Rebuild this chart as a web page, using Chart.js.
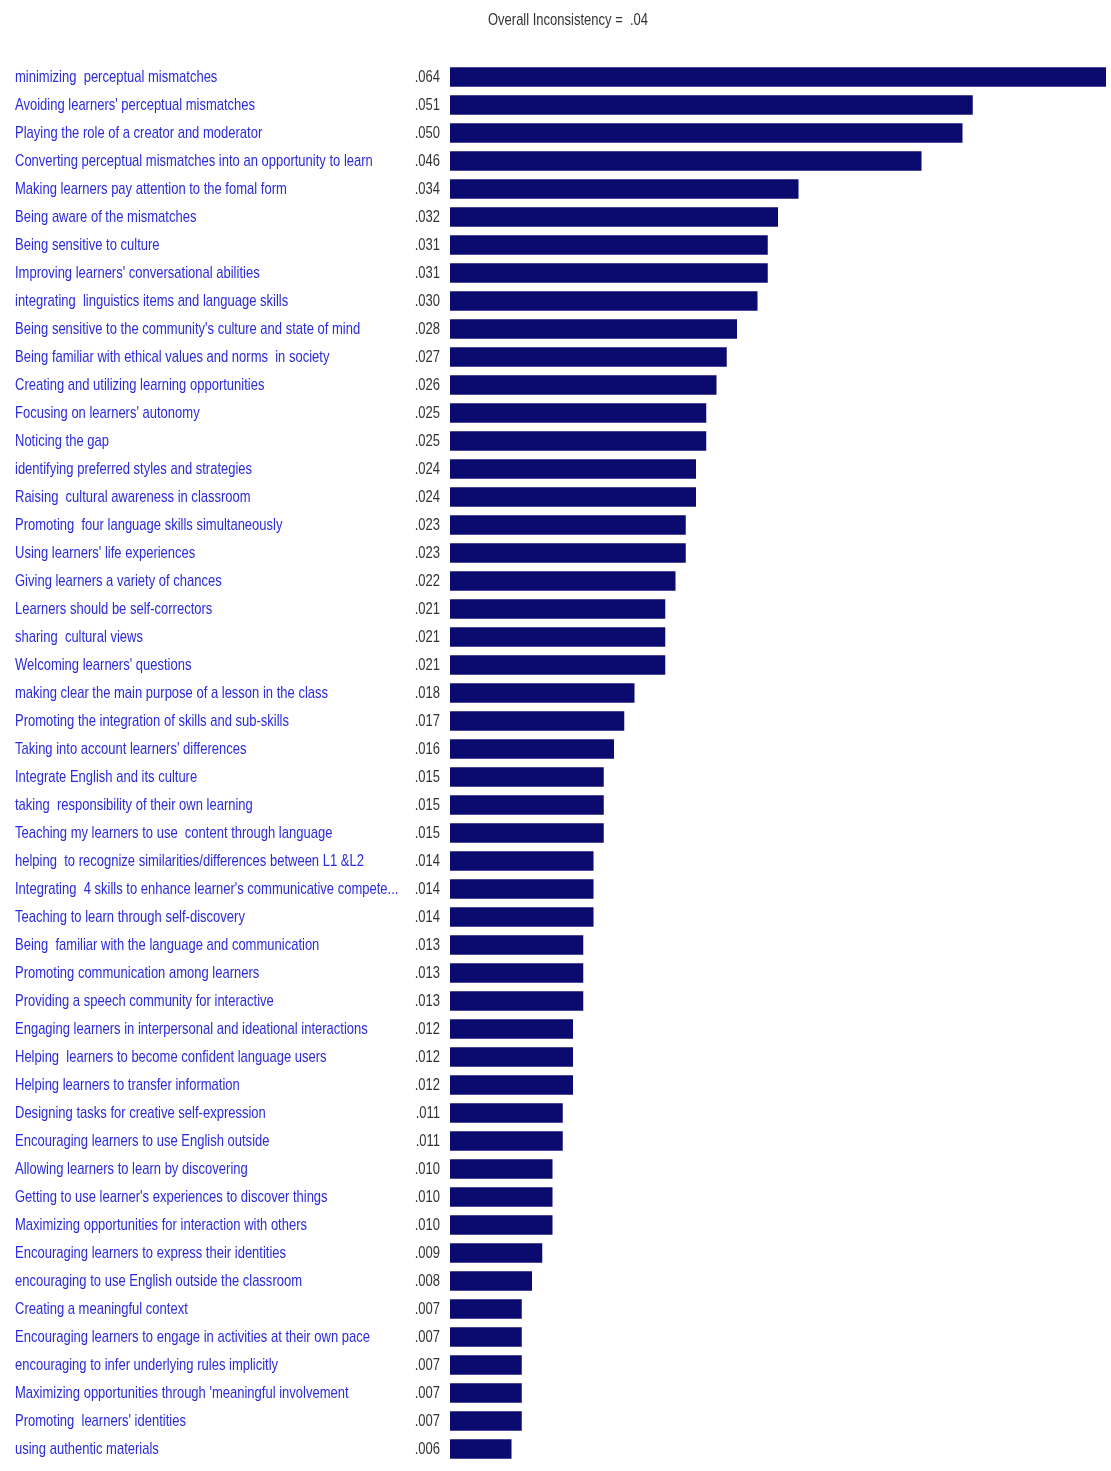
<!DOCTYPE html>
<html>
<head>
<meta charset="utf-8">
<title>Overall Inconsistency</title>
<script src="https://cdn.jsdelivr.net/npm/chart.js@4/dist/chart.umd.min.js"></script>
<style>
  html, body { margin: 0; padding: 0; background: #fff; }
  #wrap { width: 1111px; height: 1471px; position: relative; }
</style>
</head>
<body>
<div id="wrap"><canvas id="grafico"></canvas></div>
<script>
// rotulos das categorias (de cima para baixo)
const categorias = [
  "minimizing  perceptual mismatches",
  "Avoiding learners' perceptual mismatches",
  "Playing the role of a creator and moderator",
  "Converting perceptual mismatches into an opportunity to learn",
  "Making learners pay attention to the fomal form",
  "Being aware of the mismatches",
  "Being sensitive to culture",
  "Improving learners' conversational abilities",
  "integrating  linguistics items and language skills",
  "Being sensitive to the community's culture and state of mind",
  "Being familiar with ethical values and norms  in society",
  "Creating and utilizing learning opportunities",
  "Focusing on learners' autonomy",
  "Noticing the gap",
  "identifying preferred styles and strategies",
  "Raising  cultural awareness in classroom",
  "Promoting  four language skills simultaneously",
  "Using learners' life experiences",
  "Giving learners a variety of chances",
  "Learners should be self-correctors",
  "sharing  cultural views",
  "Welcoming learners' questions",
  "making clear the main purpose of a lesson in the class",
  "Promoting the integration of skills and sub-skills",
  "Taking into account learners' differences",
  "Integrate English and its culture",
  "taking  responsibility of their own learning",
  "Teaching my learners to use  content through language",
  "helping  to recognize similarities/differences between L1 &L2",
  "Integrating  4 skills to enhance learner's communicative compete...",
  "Teaching to learn through self-discovery",
  "Being  familiar with the language and communication",
  "Promoting communication among learners",
  "Providing a speech community for interactive",
  "Engaging learners in interpersonal and ideational interactions",
  "Helping  learners to become confident language users",
  "Helping learners to transfer information",
  "Designing tasks for creative self-expression",
  "Encouraging learners to use English outside",
  "Allowing learners to learn by discovering",
  "Getting to use learner's experiences to discover things",
  "Maximizing opportunities for interaction with others",
  "Encouraging learners to express their identities",
  "encouraging to use English outside the classroom",
  "Creating a meaningful context",
  "Encouraging learners to engage in activities at their own pace",
  "encouraging to infer underlying rules implicitly",
  "Maximizing opportunities through 'meaningful involvement",
  "Promoting  learners' identities",
  "using authentic materials"
];

// valores (pesos)
const valores = [
  0.064, 0.051, 0.050, 0.046, 0.034, 0.032, 0.031, 0.031, 0.030, 0.028,
  0.027, 0.026, 0.025, 0.025, 0.024, 0.024, 0.023, 0.023, 0.022, 0.021,
  0.021, 0.021, 0.018, 0.017, 0.016, 0.015, 0.015, 0.015, 0.014, 0.014,
  0.014, 0.013, 0.013, 0.013, 0.012, 0.012, 0.012, 0.011, 0.011, 0.010,
  0.010, 0.010, 0.009, 0.008, 0.007, 0.007, 0.007, 0.007, 0.007, 0.006
];

const titulo = "Overall Inconsistency =  .04";
const fonte = "'Liberation Sans', Arial, sans-serif";
const estreito = 0.765; // fonte "narrow": comprime o texto na horizontal

// texto comprimido (tipo Arial Narrow)
function textoEstreito(ctx, txt, x, y, align) {
  ctx.save();
  ctx.translate(x, y);
  ctx.scale(estreito, 1);
  ctx.textAlign = align;
  ctx.fillText(txt, 0, 0);
  ctx.restore();
}

// desenha rotulos das categorias, valores e titulo
const rotulosTexto = {
  id: 'rotulosTexto',
  afterDatasetsDraw(chart) {
    const ctx = chart.ctx;
    const escalaY = chart.scales.y;
    const area = chart.chartArea;
    ctx.save();
    ctx.textBaseline = "middle";
    ctx.font = "17px " + fonte;

    categorias.forEach((cat, i) => {
      const y = escalaY.getPixelForTick(i);
      ctx.fillStyle = "#2b2bde";
      textoEstreito(ctx, cat, 15, y, "left");
      ctx.fillStyle = "#333333";
      const txt = valores[i].toFixed(3).replace(/^0/, '');
      textoEstreito(ctx, txt, area.left - 10, y, "right");
    });

    ctx.fillStyle = "#333333";
    ctx.font = "17px " + fonte;
    textoEstreito(ctx, titulo, 568, 20, "center");
    ctx.restore();
  }
};

const ctx = document.getElementById('grafico').getContext('2d');

new Chart(ctx, {
  type: 'bar',
  data: {
    labels: categorias,
    datasets: [{
      data: valores,
      backgroundColor: '#0b0b6f',
      borderWidth: 0,
      barPercentage: 0.7,
      categoryPercentage: 1.0
    }]
  },
  options: {
    indexAxis: 'y',
    responsive: true,
    maintainAspectRatio: false,
    animation: false,
    layout: {
      padding: { left: 15, right: 5, top: 63, bottom: 8 }
    },
    scales: {
      x: {
        display: false,
        min: 0,
        max: 0.064
      },
      y: {
        grid: { display: false },
        border: { display: false },
        afterFit: (s) => { s.width = 435; },
        ticks: { display: false, autoSkip: false }
      }
    },
    plugins: {
      legend: { display: false },
      tooltip: { enabled: false },
      title: { display: false }
    }
  },
  plugins: [rotulosTexto]
});
</script>
</body>
</html>
